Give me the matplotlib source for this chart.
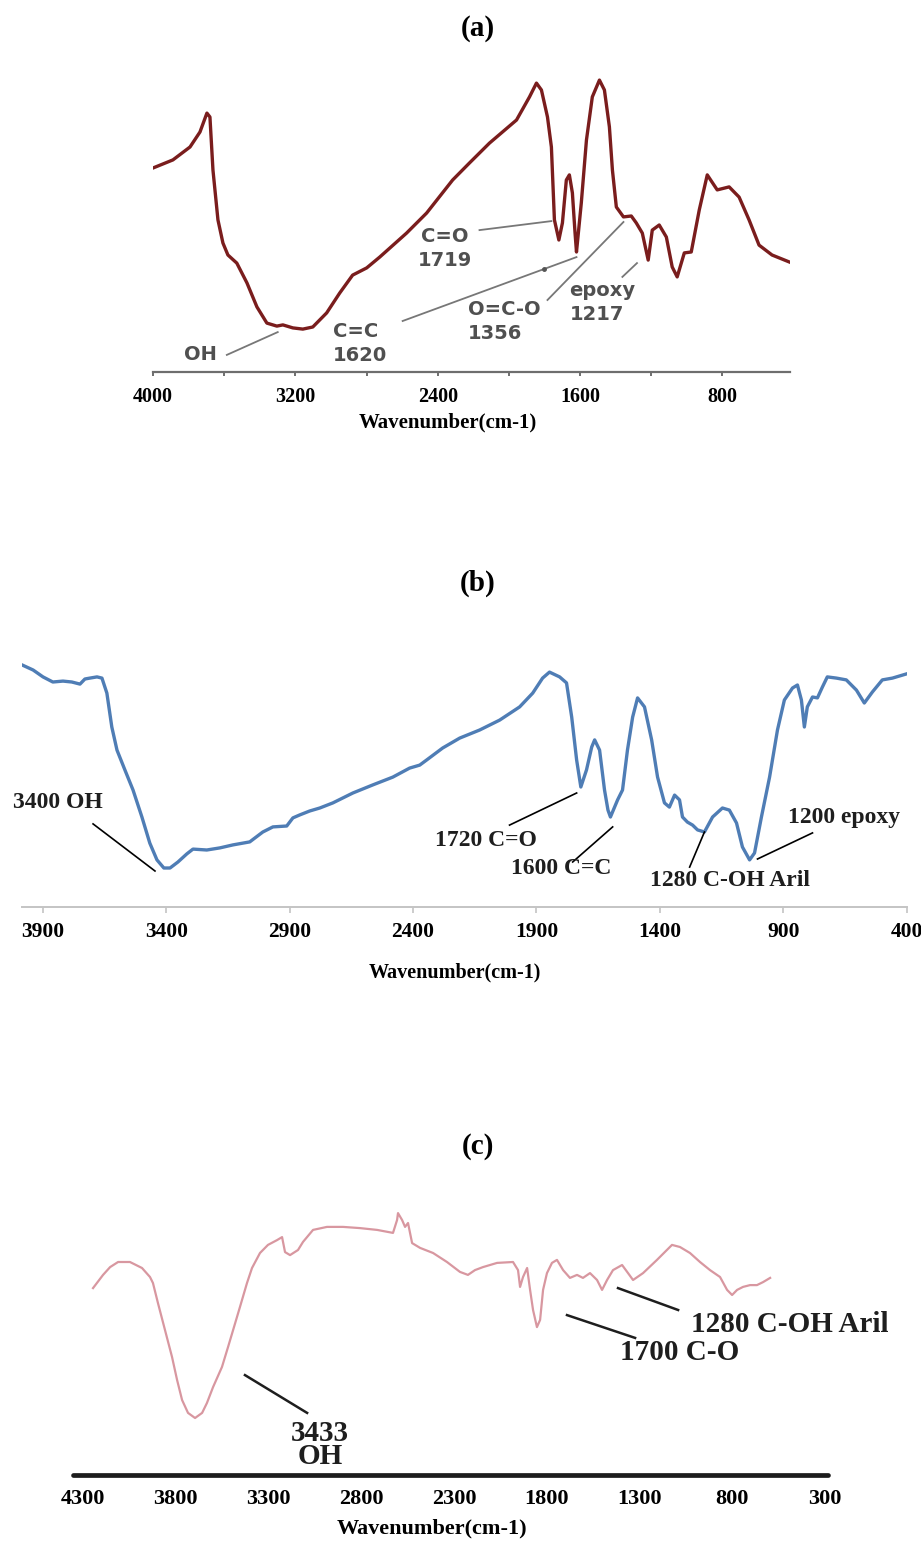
import matplotlib.pyplot as plt
from matplotlib.ticker import MultipleLocator

# ---- espectro (a) ----
wn_a = [4000, 3888, 3792, 3736, 3697, 3680, 3663, 3635, 3607, 3579,
        3529, 3472, 3416, 3360, 3304, 3270, 3214, 3158, 3102, 3024,
        2951, 2878, 2799, 2726, 2575, 2462, 2316, 2221, 2109, 1957,
        1884, 1845, 1817, 1783, 1761, 1744, 1719, 1699, 1677, 1660,
        1643, 1628, 1620, 1593, 1564, 1531, 1491, 1463, 1435, 1418,
        1396, 1356, 1312, 1284, 1250, 1217, 1194, 1155, 1115, 1082,
        1054, 1014, 975, 930, 885, 829, 762, 706, 650, 594, 521, 425]
tr_a = [68, 70.7, 75, 80, 86.3, 85, 67.3, 50.7, 43, 39,
        36.3, 29.7, 21.7, 16.3, 15.3, 15.7, 14.7, 14.3, 15, 19.7,
        26.3, 32.3, 34.7, 38.3, 46.3, 53, 64, 69.7, 76.3, 84,
        91.7, 96.3, 94, 85, 75, 50.7, 44, 49.7, 64, 65.7,
        59.7, 46.3, 40, 56.3, 77.3, 91.7, 97.3, 94, 81.7, 67.3,
        55, 51.7, 52, 49.7, 46.3, 37.3, 47.3, 49, 45, 35,
        31.7, 39.7, 40, 54, 65.7, 60.7, 61.7, 58.3, 50.7, 42.3, 39, 36.7]
ticks_a = [4000, 3200, 2400, 1600, 800]

# ---- espectro (b) ----
wn_b = [3985, 3940, 3900, 3860, 3819, 3783, 3750, 3730, 3710, 3681,
        3661, 3641, 3621, 3600, 3568, 3535, 3499, 3467, 3438, 3410,
        3385, 3353, 3317, 3292, 3236, 3183, 3130, 3062, 3009, 2968,
        2912, 2887, 2859, 2819, 2778, 2725, 2644, 2563, 2482, 2414,
        2373, 2345, 2280, 2211, 2130, 2049, 1968, 1915, 1875, 1847,
        1806, 1778, 1757, 1737, 1720, 1697, 1676, 1664, 1644, 1624,
        1610, 1600, 1571, 1551, 1531, 1510, 1490, 1462, 1433, 1409,
        1381, 1361, 1340, 1320, 1308, 1288, 1267, 1247, 1219, 1186,
        1146, 1118, 1089, 1065, 1036, 1016, 988, 955, 923, 895,
        862, 842, 826, 814, 802, 781, 761, 741, 721, 684,
        644, 603, 571, 538, 498, 457, 400]
tr_b = [80.7, 79, 76.7, 75, 75.3, 75, 74.3, 76, 76.3, 76.7,
        76.3, 71.3, 60, 52.3, 45.7, 39, 30, 21.3, 15.7, 13,
        13, 15, 17.7, 19.3, 19, 19.7, 20.7, 21.7, 25, 26.7,
        27, 29.7, 30.7, 32, 33, 34.7, 38, 40.7, 43.3, 46.3,
        47.3, 49, 53, 56.3, 59, 62.3, 66.7, 71.3, 76.3, 78.3,
        76.7, 74.7, 63.3, 49, 40, 45.7, 53.3, 55.7, 52.3, 39,
        32.3, 30, 35.7, 39, 52.3, 63.3, 69.7, 66.7, 55.7, 43.3,
        34.7, 33.3, 37.3, 35.7, 30, 28.3, 27.3, 25.7, 25, 30,
        33, 32.3, 28, 20, 15.7, 18, 30, 43.3, 59, 69,
        73, 74, 69, 60, 66.7, 70, 69.7, 73.3, 76.7, 76.3,
        75.7, 72.3, 68, 71.7, 75.7, 76.3, 77.7]
ticks_b = [3900, 3400, 2900, 2400, 1900, 1400, 900, 400]

# ---- espectro (c) ----
wn_c = [4246, 4192, 4154, 4111, 4047, 3982, 3939, 3923, 3896, 3858,
        3820, 3793, 3766, 3734, 3696, 3658, 3632, 3599, 3551, 3518,
        3491, 3454, 3416, 3389, 3346, 3303, 3254, 3227, 3211, 3184,
        3141, 3114, 3060, 2985, 2898, 2807, 2715, 2629, 2607, 2602,
        2580, 2564, 2548, 2526, 2483, 2413, 2338, 2268, 2225, 2187,
        2144, 2068, 1982, 1955, 1944, 1928, 1906, 1890, 1874, 1853,
        1836, 1820, 1799, 1772, 1745, 1712, 1675, 1637, 1605, 1567,
        1529, 1502, 1475, 1443, 1394, 1362, 1335, 1281, 1206, 1125,
        1082, 1028, 974, 920, 866, 828, 801, 774, 742, 704,
        667, 634, 596]
tr_c = [62.3, 66.7, 69.3, 71, 71, 69, 66, 64, 57.3, 48.3,
        39.3, 31.7, 25, 20.7, 19, 20.7, 24, 29.3, 36, 42.7,
        48.3, 56, 64, 69, 74, 76.7, 78.3, 79.3, 74.3, 73.3,
        75, 77.7, 81.7, 82.7, 82.7, 82.3, 81.7, 80.7, 85, 87.3,
        85, 82.7, 84, 77.3, 75.7, 74, 71, 67.7, 66.7, 68.3,
        69.3, 70.7, 71, 68.3, 62.7, 66, 69, 61.7, 55, 49.3,
        51.7, 61.7, 67.3, 70.7, 71.7, 68.3, 65.7, 66.7, 65.7, 67.3,
        65, 61.7, 65, 68.3, 70, 67.3, 65, 67.3, 71.7, 76.7,
        76, 74, 71, 68.3, 66, 61.7, 60, 61.7, 62.7, 63.3,
        63.3, 64.3, 65.7]
ticks_c = [4300, 3800, 3300, 2800, 2300, 1800, 1300, 800, 300]

plt.rcParams['font.family'] = ['Liberation Serif', 'DejaVu Serif']

W, H = 921, 1546
fig = plt.figure(figsize=(W / 100, H / 100), dpi=100)


def eje(x0, x1, ybase):
    # ejes de 300 px de alto, solo con la linea inferior
    ax = fig.add_axes([x0 / W, 1 - ybase / H, (x1 - x0) / W, 300 / H])
    for s in ['top', 'right', 'left']:
        ax.spines[s].set_visible(False)
    ax.set_yticks([])
    ax.set_ylim(0, 100)
    ax.patch.set_alpha(0)
    return ax


def nota(ax, texto, punta, inicio, pos, col_linea, lw, **kw):
    ax.plot([inicio[0], punta[0]], [inicio[1], punta[1]], color=col_linea, lw=lw)
    ax.text(pos[0], pos[1], texto, **kw)


# (a)
ax = eje(153, 790, 372)
ax.plot(wn_a, tr_a, color='#7a1d1d', lw=2.4, solid_joinstyle='round')
ax.set_xlim(4000, 420)
ax.set_xticks(ticks_a, [str(t) for t in ticks_a], fontsize=14.5, fontweight='bold')
ax.xaxis.set_minor_locator(MultipleLocator(400))
ax.spines['bottom'].set_color('#6e6e6e')
ax.spines['bottom'].set_linewidth(1.6)
ax.tick_params(axis='x', which='both', direction='out', color='#6e6e6e',
               width=1.4, length=3, pad=8)
ax.set_xlabel('Wavenumber(cm-1)', fontsize=15, fontweight='bold')
ax.xaxis.set_label_coords(0.463, -0.135)

est_a = dict(family='DejaVu Sans', fontweight='bold', fontsize=14, color='#505050',
             va='center', linespacing=1.35)
gris = '#777777'
nota(ax, 'OH', (3299, 13.3), (3585, 5.7), (3731, 5.7), gris, 1.3, ha='center', **est_a)
nota(ax, 'C=C\n1620', (1620, 38.3), (2597, 17), (2990, 9.5), gris, 1.3, ha='left', **est_a)
nota(ax, 'C=O\n1719', (1761, 50.3), (2165, 47.3), (2361, 41.2), gris, 1.3, ha='center', **est_a)
nota(ax, 'O=C-O\n1356', (1356, 50), (1783, 24), (2232, 16.8), gris, 1.3, ha='left', **est_a)
nota(ax, 'epoxy\n1217', (1280, 36.3), (1362, 31.7), (1660, 23.2), gris, 1.3, ha='left', **est_a)
ax.plot(1800, 34.4, 'o', color='#555555', ms=2.5)

# (b)
ax = eje(22, 907, 907)
ax.plot(wn_b, tr_b, color='#4f7db5', lw=2.4, solid_joinstyle='round')
ax.set_xlim(3985, 398)
ax.set_xticks(ticks_b, [str(t) for t in ticks_b], fontsize=15.5, fontweight='bold')
ax.spines['bottom'].set_color('#c4c4c4')
ax.spines['bottom'].set_linewidth(1.4)
ax.tick_params(axis='x', direction='out', color='#c4c4c4', width=1.2, length=4, pad=7)
ax.set_xlabel('Wavenumber(cm-1)', fontsize=14.5, fontweight='bold')
ax.xaxis.set_label_coords(0.489, -0.185)

est_b = dict(fontweight='bold', fontsize=17, color='#1e1e1e', va='center')
nota(ax, '3400 OH', (3446, 12), (3697, 27.7), (4021, 34.7), 'black', 1.2, ha='left', **est_b)
nota(ax, '1720 C=O', (1737, 38), (2009, 27.3), (2106, 22.3), 'black', 1.2, ha='center', **est_b)
nota(ax, '1600 C=C', (1591, 26.7), (1753, 15), (1798, 13), 'black', 1.2, ha='center', **est_b)
nota(ax, '1280 C-OH Aril', (1219, 25), (1279, 13.3), (1117, 9), 'black', 1.2, ha='center', **est_b)
nota(ax, '1200 epoxy', (1004, 16), (781, 24.7), (652, 30), 'black', 1.2, ha='center', **est_b)

# (c)
ax = eje(73, 828, 1475)
ax.plot(wn_c, tr_c, color='#d897a0', lw=1.6, solid_joinstyle='round')
ax.set_xlim(4354, 284)
ax.set_xticks(ticks_c, [str(t) for t in ticks_c], fontsize=16, fontweight='bold')
ax.spines['bottom'].set_color('#1c1c1c')
ax.spines['bottom'].set_linewidth(3.4)
ax.spines['bottom'].set_capstyle('round')
ax.tick_params(axis='x', length=0, pad=10)
ax.set_xlabel('Wavenumber(cm-1)', fontsize=16, fontweight='bold')
ax.xaxis.set_label_coords(0.475, -0.145)

est_c = dict(fontweight='bold', fontsize=21, color='#1e1e1e', va='center', ha='center')
nota(ax, '3433\nOH', (3092, 20.7), (3427, 33.3), (3022, 10), '#1e1e1e', 1.8,
     linespacing=0.8, **est_c)
nota(ax, '1700 C-O', (1324, 45.7), (1691, 53.3), (1082, 40.7), '#1e1e1e', 1.8, **est_c)
nota(ax, '1280 C-OH Aril', (1092, 55), (1416, 62.3), (489, 50), '#1e1e1e', 1.8, **est_c)

# titulos de cada panel
for letra, y in [('(a)', 28), ('(b)', 583), ('(c)', 1146)]:
    fig.text(478 / W, 1 - y / H, letra, ha='center', va='center',
             fontsize=21, fontweight='bold')

fig.savefig('out.png', dpi=100, facecolor='white')
